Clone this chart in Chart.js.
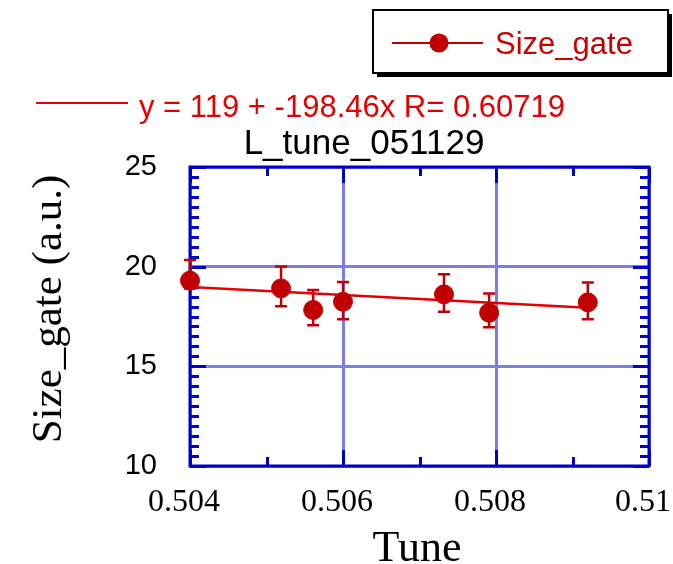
<!DOCTYPE html>
<html>
<head>
<meta charset="utf-8">
<script src="https://cdn.jsdelivr.net/npm/chart.js@4/dist/chart.umd.min.js"></script>
<style>
  html, body { margin: 0; padding: 0; background: #ffffff; }
  #wrap { position: relative; width: 673px; height: 564px; }
</style>
</head>
<body>
<div id="wrap"><canvas id="c" width="673" height="564"></canvas></div>
<script>
// Measurements: tune setting vs. gate size, with error bars
const tune     = [0.50400, 0.50519, 0.50561, 0.50600, 0.50732, 0.50791, 0.50920];
const sizeGate = [19.30, 18.91, 17.83, 18.24, 18.61, 17.69, 18.21];
const errUp    = [1.03, 1.10, 1.00, 0.99, 1.01, 0.97, 1.00];
const errDown  = [0.40, 0.89, 0.77, 0.88, 0.87, 0.73, 0.85];

// Linear fit reported in the annotation
const fitIntercept = 119;
const fitSlope = -198.46;
const fitR = 0.60719;

// Axis ticks
const xTicks = [0.504, 0.506, 0.508, 0.51];
const yTicks = [10, 15, 20, 25];

const seriesName = 'Size_gate';
const chartTitle = 'L_tune_051129';
const xTitle = 'Tune';
const yTitle = 'Size_gate (a.u.)';

const FRAME = 'rgb(0,0,205)';
const GRID = 'rgb(124,124,236)';
const MARK = 'rgb(192,0,0)';
const FITC = 'rgb(228,0,0)';

const xFirst = Math.min(...tune), xLast = Math.max(...tune);
const fitPoints = [xFirst, xLast].map(x => ({ x: x, y: fitIntercept + fitSlope * x }));

// Inner ticks on all four sides plus the blue frame
const framePlugin = {
  id: 'frameTicks',
  beforeDatasetsDraw(chart) {
    const { ctx, chartArea: a, scales: { x, y } } = chart;
    ctx.save();
    ctx.strokeStyle = FRAME;
    ctx.lineWidth = 3;
    ctx.lineCap = 'butt';
    ctx.beginPath();
    // y ticks: minor every 0.5, major every 5
    for (let v = y.min; v <= y.max + 1e-9; v += 0.5) {
      const py = Math.round(y.getPixelForValue(v)) + 0.5;
      const major = Math.abs(v / 5 - Math.round(v / 5)) < 1e-6;
      const len = major ? 16 : 9;
      ctx.moveTo(a.left, py); ctx.lineTo(a.left + len, py);
      ctx.moveTo(a.right, py); ctx.lineTo(a.right - len, py);
    }
    // x ticks: minor every 0.001, major every 0.002
    for (let i = 0; i <= 6; i++) {
      const v = x.min + i * 0.001;
      const px = Math.round(x.getPixelForValue(v)) + 0.5;
      const len = (i % 2 === 0) ? 16 : 9;
      ctx.moveTo(px, a.bottom); ctx.lineTo(px, a.bottom - len);
      ctx.moveTo(px, a.top); ctx.lineTo(px, a.top + len);
    }
    ctx.stroke();
    ctx.lineWidth = 3;
    ctx.strokeRect(a.left, a.top, a.right - a.left, a.bottom - a.top);
    ctx.restore();
  }
};

// Vertical error bars with caps
const errorBarPlugin = {
  id: 'errorBars',
  beforeDatasetsDraw(chart) {
    const { ctx, scales: { x, y } } = chart;
    ctx.save();
    ctx.strokeStyle = MARK;
    ctx.lineWidth = 2.5;
    tune.forEach((t, i) => {
      const px = x.getPixelForValue(t);
      const top = y.getPixelForValue(sizeGate[i] + errUp[i]);
      const bot = y.getPixelForValue(sizeGate[i] - errDown[i]);
      ctx.beginPath();
      ctx.moveTo(px, top); ctx.lineTo(px, bot);
      ctx.moveTo(px - 6, top); ctx.lineTo(px + 6, top);
      ctx.moveTo(px - 6, bot); ctx.lineTo(px + 6, bot);
      ctx.stroke();
    });
    ctx.restore();
  }
};

// Title, axis titles, fit annotation and legend box
const textPlugin = {
  id: 'texts',
  afterDraw(chart) {
    const { ctx } = chart;
    ctx.save();

    // legend box with drop shadow
    ctx.fillStyle = '#000';
    ctx.fillRect(377, 14, 295, 63);
    ctx.fillStyle = '#fff';
    ctx.fillRect(373, 10, 295, 63);
    ctx.strokeStyle = '#000';
    ctx.lineWidth = 2;
    ctx.strokeRect(373, 10, 295, 63);
    ctx.strokeStyle = MARK;
    ctx.lineWidth = 2;
    ctx.beginPath(); ctx.moveTo(392, 43); ctx.lineTo(483, 43); ctx.stroke();
    ctx.fillStyle = MARK;
    ctx.beginPath(); ctx.arc(439, 43, 9.5, 0, Math.PI * 2); ctx.fill();
    ctx.fillStyle = 'rgb(200,0,0)';
    ctx.font = '31px "Liberation Sans", Arial, sans-serif';
    ctx.textAlign = 'left';
    ctx.textBaseline = 'middle';
    ctx.fillText(seriesName, 495, 45);

    // fit annotation
    ctx.strokeStyle = FITC;
    ctx.lineWidth = 2;
    ctx.beginPath(); ctx.moveTo(36, 103); ctx.lineTo(128, 103); ctx.stroke();
    ctx.fillStyle = FITC;
    ctx.font = '31px "Liberation Sans", Arial, sans-serif';
    ctx.textBaseline = 'alphabetic';
    ctx.fillText('y = ' + fitIntercept + ' + ' + fitSlope + 'x R= ' + fitR, 139, 117);

    // chart title
    ctx.fillStyle = '#000';
    ctx.font = '35px "Liberation Sans", Arial, sans-serif';
    ctx.textAlign = 'center';
    ctx.fillText(chartTitle, 364, 154);

    // axis titles
    ctx.font = '44px "Liberation Serif", "Times New Roman", serif';
    ctx.fillText(xTitle, 417, 561);
    ctx.translate(61, 309);
    ctx.rotate(-Math.PI / 2);
    ctx.font = '43px "Liberation Serif", "Times New Roman", serif';
    ctx.fillText(yTitle, 0, 0);
    ctx.restore();
  }
};

new Chart(document.getElementById('c'), {
  type: 'scatter',
  data: {
    datasets: [
      {
        label: seriesName,
        data: tune.map((t, i) => ({ x: t, y: sizeGate[i] })),
        backgroundColor: MARK,
        borderColor: MARK,
        pointRadius: 9.5,
        pointHoverRadius: 9.5,
        showLine: false,
        clip: false,
        order: 0
      },
      {
        label: 'fit',
        type: 'line',
        data: fitPoints,
        borderColor: FITC,
        borderWidth: 2.5,
        pointRadius: 0,
        fill: false,
        clip: false,
        order: 1
      }
    ]
  },
  options: {
    responsive: false,
    devicePixelRatio: 1,
    animation: false,
    layout: { autoPadding: false, padding: { top: 167, right: 24, left: 0, bottom: 0 } },
    plugins: { legend: { display: false }, title: { display: false }, tooltip: { enabled: false } },
    scales: {
      x: {
        type: 'linear',
        min: 0.504,
        max: 0.51,
        afterBuildTicks(scale) { scale.ticks = xTicks.map(v => ({ value: v })); },
        afterFit(scale) { scale.height = 98; scale.paddingLeft = 0; scale.paddingRight = 0; },
        ticks: {
          autoSkip: false,
          maxRotation: 0,
          padding: 17,
          labelOffset: -6,
          color: '#000',
          font: { family: '"Liberation Serif", "Times New Roman", serif', size: 32 },
          callback: v => String(Number(v.toFixed(3)))
        },
        grid: { color: GRID, lineWidth: 3, drawTicks: false },
        border: { display: false }
      },
      y: {
        type: 'linear',
        min: 10,
        max: 25,
        afterBuildTicks(scale) { scale.ticks = yTicks.map(v => ({ value: v })); },
        afterFit(scale) { scale.width = 190; scale.paddingTop = 0; scale.paddingBottom = 0; },
        ticks: {
          padding: 33,
          color: '#000',
          font: { family: '"Liberation Sans", Arial, sans-serif', size: 29 }
        },
        grid: { color: GRID, lineWidth: 3, drawTicks: false },
        border: { display: false }
      }
    }
  },
  plugins: [framePlugin, errorBarPlugin, textPlugin]
});
</script>
</body>
</html>
